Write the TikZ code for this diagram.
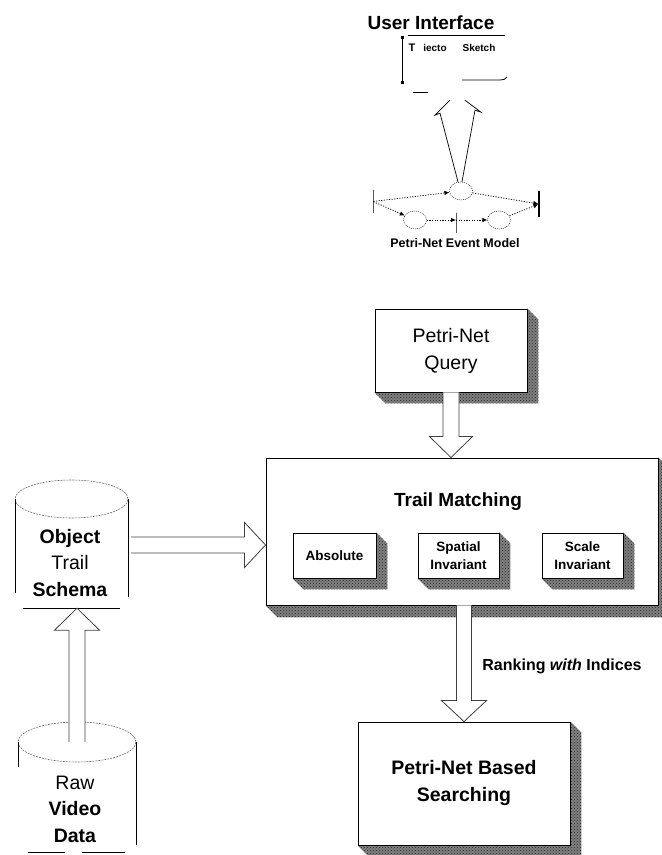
\documentclass[tikz,border=0pt]{standalone}
\usepackage{fontspec}
\setmainfont{Liberation Sans}
\usetikzlibrary{calc,patterns,arrows.meta,shapes.geometric}

\tikzset{
  box/.style={draw, fill=white, line width=0.9pt, inner sep=0pt, align=center},
  shadefill/.style={fill=black!50},
  shadedots/.style={pattern=crosshatch dots, pattern color=black!85},
  hollow/.style={draw=black!75, fill=white, line width=0.8pt, line join=miter},
  netlink/.style={dash pattern=on 1.2pt off 1.4pt, line width=0.7pt, -{Latex[length=5pt,width=4.5pt]}},
  place/.style={draw, dash pattern=on 1pt off 1pt, ellipse, minimum width=23pt, minimum height=18pt, inner sep=0pt},
  bar/.style={draw, rectangle, minimum width=0pt, inner sep=0pt, line width=0.9pt},
  bigfont/.style={font=\fontsize{19.5}{27}\selectfont, align=center},
  bigbold/.style={font=\fontsize{19.5}{27}\selectfont\bfseries, align=center},
  subfont/.style={font=\fontsize{13.5}{18}\selectfont\bfseries, align=center},
  cylside/.style={line width=0.9pt},
  cylrim/.style={draw=black!60, dash pattern=on 2pt off 1pt, line width=0.6pt}
}

% bevelled drop shade under the lower right of a box
\newcommand{\dropshade}[2]{%
  \fill[shadefill] (#1.south west) -- ++(#2,-#2) -- ($(#1.south east)+(#2,-#2)$)
    -- ($(#1.north east)+(#2,-#2)$) -- (#1.north east) -- (#1.south east) -- cycle;
  \fill[shadedots] (#1.south west) -- ++(#2,-#2) -- ($(#1.south east)+(#2,-#2)$)
    -- ($(#1.north east)+(#2,-#2)$) -- (#1.north east) -- (#1.south east) -- cycle;}

\begin{document}
\begin{tikzpicture}[x=1pt, y=1pt]
\useasboundingbox (0,0) rectangle (662,855);

% ---------- user interface window ----------
\node[font=\fontsize{19}{22}\selectfont\bfseries] (uititle) at (431,832) {User Interface};
\node[minimum width=105pt, minimum height=48pt, inner sep=0pt] (ui) at (454.5,796) {};
\draw[line width=0.7pt] (402,772) -- (402,817);
\fill (400.5,815.5) rectangle ++(3,3);
\fill (400.5,770.5) rectangle ++(3,3);
\draw[line width=0.8pt] (408,820) -- (505,820);
\draw[line width=0.8pt] (462,775) -- (500,775) to[out=0,in=-120] (507,778);
\draw[line width=1pt] (413,762) -- (428,762);
\node[font=\fontsize{11}{12}\selectfont\bfseries] (uit) at (412,807) {T};
\node[font=\fontsize{10}{12}\selectfont\bfseries] (uiw) at (435,807) {iecto};
\node[font=\fontsize{10}{12}\selectfont\bfseries] (uis) at (479,807) {Sketch};

% ---------- Petri-net event model ----------
\node[place] (p1) at (461,664) {};
\node[place] (p2) at (415,635) {};
\node[place] (p3) at (499,635) {};
\node[bar, minimum height=23pt] (tl) at (373,653.5) {};
\node[bar, minimum height=26pt, line width=1.2pt] (tr) at (539,651) {};
\node[bar, minimum height=20pt] (tm) at (456,632) {};
\draw[netlink] (tl) -- (p1);
\draw[netlink] (p1) -- (tr);
\draw[netlink] (tl) -- (p2);
\draw[netlink] (p2) -- (p2 -| tm);
\draw[netlink] (p3 -| tm) -- (p3);
\draw[netlink] (p3) -- (tr);
\node[font=\fontsize{12.5}{14}\selectfont\bfseries] (pnlabel) at (455,612) {Petri-Net Event Model};

% split open arrow from the event model up to the window
\draw[line width=0.7pt, line join=miter] let \p1=(p1.north), \p2=(ui.south) in
  (\x1-3,\y1) -- (\x1-21,\y2-30) -- (\x1-26,\y2-32) -- (\x1-11,\y2-17);
\draw[line width=0.7pt, line join=miter] let \p1=(p1.north), \p2=(ui.south) in
  (\x1+1,\y1) -- (\x1+14,\y2-27) -- (\x1+20,\y2-29) -- (\x1+4,\y2-17);

% ---------- Petri-net query ----------
\node[box, minimum width=152pt, minimum height=83pt] (query) at (451,504.5) {};
\dropshade{query}{11}
\node[box, minimum width=152pt, minimum height=83pt, bigfont] at (query) {Petri-Net\\Query};

% ---------- trail matching ----------
\node[box, minimum width=392pt, minimum height=147pt] (trail) at (462,323.5) {};
\dropshade{trail}{12}
\node[box, minimum width=392pt, minimum height=147pt] at (trail) {};
\node[font=\fontsize{19}{22}\selectfont\bfseries] (tmtitle) at (458,353) {Trail Matching};

\node[box, minimum width=83pt, minimum height=45pt] (abs) at (334.5,299.5) {};
\dropshade{abs}{11}
\node[box, minimum width=83pt, minimum height=45pt, subfont] at (abs) {Absolute};

\node[box, minimum width=81pt, minimum height=45pt] (spat) at (458.5,299.5) {};
\dropshade{spat}{11}
\node[box, minimum width=81pt, minimum height=45pt, subfont] at (spat) {Spatial\\Invariant};

\node[box, minimum width=81pt, minimum height=45pt] (scale) at (582.5,299.5) {};
\dropshade{scale}{11}
\node[box, minimum width=81pt, minimum height=45pt, subfont] at (scale) {Scale\\Invariant};

% ---------- Petri-net based searching ----------
\node[box, minimum width=212pt, minimum height=123pt] (search) at (464,71.5) {};
\dropshade{search}{11}
\node[box, minimum width=212pt, minimum height=123pt, bigbold] at (search) {Petri-Net Based\\Searching};

% ---------- object trail schema (cylinder) ----------
\node[minimum width=113pt, minimum height=109pt, inner sep=0pt] (schema) at (71.5,301.5) {};
\draw[cylrim] (71.5,356) ellipse [x radius=56.5, y radius=19];
\draw[cylside] (15,356) -- (15,262);
\draw[cylside] (128,356) -- (128,258);
\draw[cylside] (23,247) -- (120,247);
\node[align=center, font=\fontsize{19.5}{26.5}\selectfont] (schematext) at (70,292)
  {\textbf{Object}\\Trail\\\textbf{Schema}};

% ---------- raw video data (cylinder) ----------
\node[minimum width=118pt, minimum height=130pt, inner sep=0pt] (raw) at (77,68) {};
\draw[cylrim] (77,113) ellipse [x radius=59, y radius=20];
\draw[cylside] (18,113) -- (18,88);
\draw[cylside] (136,113) -- (136,10);
\draw[cylside] (28,3) -- (65,3);
\draw[cylside] (82,3) -- (125,3);
\node[align=center, font=\fontsize{19.5}{26.5}\selectfont] (rawtext) at (75,46)
  {Raw\\\textbf{Video}\\\textbf{Data}};

% ---------- hollow block arrows ----------
\draw[hollow] let \p1=(query.south), \p2=(trail.north) in
  (\x1-8,\y1) -- (\x1-8,\y2+21) -- (\x1-21.5,\y2+21) -- (\x1,\y2)
  -- (\x1+21.5,\y2+21) -- (\x1+8,\y2+21) -- (\x1+8,\y1);

\draw[hollow] let \p1=(trail.south), \p2=(search.north) in
  (\x2-7.5,\y1) -- (\x2-7.5,\y2+21) -- (\x2-22.5,\y2+21) -- (\x2,\y2)
  -- (\x2+22.5,\y2+21) -- (\x2+7.5,\y2+21) -- (\x2+7.5,\y1);
\node[font=\fontsize{16}{18}\selectfont\bfseries] (ranklabel) at (562,189)
  {Ranking \textit{with} Indices};

\draw[hollow] let \p1=(schema.east), \p2=(trail.west) in
  (\x1+3,\y1+16.5) -- (\x2-21,\y1+16.5) -- (\x2-21,\y1+31) -- (\x2,\y1+8.5)
  -- (\x2-21,\y1-14) -- (\x2-21,\y1+0.5) -- (\x1+3,\y1+0.5);

\draw[hollow] let \p1=(raw.north), \p2=(schema.south) in
  (\x1-8,\y1-20) -- (\x1-8,\y2-22) -- (\x1-22.5,\y2-22) -- (\x1,\y2)
  -- (\x1+22.5,\y2-22) -- (\x1+8,\y2-22) -- (\x1+8,\y1-20);
\end{tikzpicture}
\end{document}
